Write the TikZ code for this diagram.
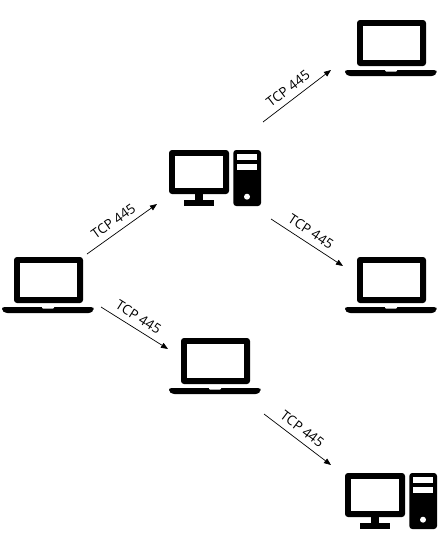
\documentclass[tikz,border=0pt]{standalone}
\usepackage{fontspec}
\setmainfont{Open Sans}
\usetikzlibrary{positioning, calc, arrows.meta}

\tikzset{
  iconbox/.style={minimum width=92pt, minimum height=56pt, inner sep=0pt, outer sep=0pt},
  link/.style={line width=0.7pt, -{Triangle[length=7pt,width=5.5pt]}},
  portlabel/.style={pos=0.47, above, sloped, inner sep=6pt, font=\fontsize{13.5}{14}\selectfont},
  laptop/.pic={
    \fill[black, rounded corners=3pt] (-34,18) -- (-34,-28) -- (35,-28) -- (35,18) -- cycle;
    \fill[white] (-28,-22.5) rectangle (28.5,12);
    \fill[black, rounded corners=2.5pt] (-46,22) -- (45.5,22) -- (45.5,25) -- (43,28) -- (-43,28) -- (-46,25) -- cycle;
    \fill[white, rounded corners=1pt] (-6,21) -- (-6,23.5) -- (6,23.5) -- (6,21) -- cycle;
  },
  desktop/.pic={
    % monitor and stand
    \fill[black, rounded corners=3pt] (-46,-28) rectangle (14,16);
    \fill[white] (-40,-22.3) rectangle (8.3,10.3);
    \fill[black] (-20,16) rectangle (-11.7,22);
    \fill[black] (-31,22) rectangle (-1,27.7);
    % tower
    \fill[black, rounded corners=3pt] (18.3,-28) rectangle (46,28);
    \fill[white] (22.3,-24) rectangle (42.3,-18);
    \fill[white] (22.3,-14) rectangle (42.3,-8);
    \fill[white] (32,18.7) circle (3pt);
  },
}

\begin{document}
\begin{tikzpicture}[x=1pt, y=-1pt]
  \useasboundingbox (0,0) rectangle (439,549);

  % Laptops
  \foreach \n/\x/\y in {lapA/48/285, lapC/391/48, lapD/391/285, lapE/215/366} {
    \node[iconbox] (\n) at (\x,\y) {};
    \pic at (\n) {laptop};
  }
  % Desktops
  \foreach \n/\x/\y in {pcB/215/178, pcF/391/501} {
    \node[iconbox] (\n) at (\x,\y) {};
    \pic at (\n) {desktop};
  }

  % Lateral movement
  \draw[link] ([shift={(39,-31)}]lapA.center) -- node[portlabel] {TCP 445} ([shift={(-58,26)}]pcB.center);
  \draw[link] ([shift={(48,-56)}]pcB.center) -- node[portlabel] {TCP 445} ([shift={(-60,22)}]lapC.center);
  \draw[link] ([shift={(56,41)}]pcB.center) -- node[portlabel] {TCP 445} ([shift={(-48,-19)}]lapD.center);
  \draw[link] ([shift={(53,22)}]lapA.center) -- node[portlabel] {TCP 445} ([shift={(-47,-17)}]lapE.center);
  \draw[link] ([shift={(49,48)}]lapE.center) -- node[portlabel] {TCP 445} ([shift={(-60,-36)}]pcF.center);
\end{tikzpicture}
\end{document}
